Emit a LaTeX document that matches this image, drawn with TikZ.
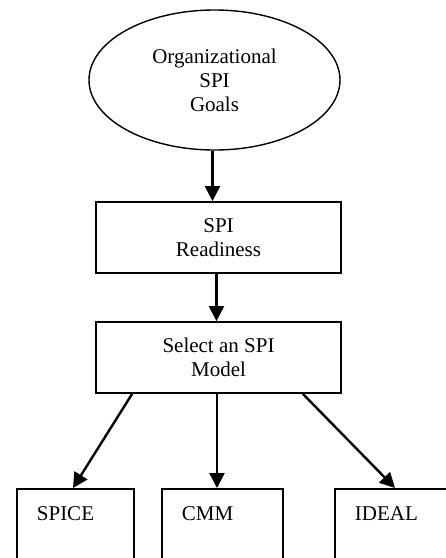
\documentclass[tikz,border=0pt]{standalone}
\usepackage{fontspec}
\setmainfont{Liberation Serif}
\usetikzlibrary{arrows.meta,shapes.geometric}
\begin{document}
\begin{tikzpicture}[x=1pt,y=-1pt,
  every node/.style={font=\fontsize{21}{24}\selectfont},
  boxstyle/.style={draw,line width=1.8pt,rectangle,minimum width=245pt,minimum height=71pt,align=center,inner sep=0pt},
  modelbox/.style={draw,line width=1.8pt,rectangle,anchor=north west,align=left,inner xsep=20pt,inner ysep=0pt,text height=32pt,text depth=100pt},
  arr/.style={line width=2.4pt,-{Triangle[length=15pt,width=15pt]}}]
\useasboundingbox (0,0) rectangle (446,558);
\clip (0,0) rectangle (446,558);
\node[draw,ellipse,line width=1.4pt,minimum width=251pt,minimum height=140pt,align=center,inner sep=0pt] (goals) at (214.5,80) {Organizational\\SPI\\Goals};
\node[boxstyle] (ready) at (218.5,237.5) {SPI\\Readiness};
\node[boxstyle] (select) at (218.5,357.5) {Select an SPI\\Model};
\node[modelbox,text width=77pt] (spice) at (16,488) {SPICE};
\node[modelbox,text width=81pt] (cmm) at (161,488) {CMM};
\node[modelbox,text width=86pt] (ideal) at (334,488) {IDEAL};
\draw[arr] ([xshift=-2pt]goals.south) -- ([xshift=-2pt]goals.south |- ready.north);
\draw[arr] ([xshift=-2pt]ready.south) -- ([xshift=-2pt]select.north);
\draw[arr] ([xshift=37pt]select.south west) -- ([xshift=57pt]spice.north west);
\draw[arr] ([xshift=-1.5pt]select.south) -- ([xshift=56pt]cmm.north west);
\draw[arr] ([xshift=-39pt]select.south east) -- ([xshift=61pt]ideal.north west);
\end{tikzpicture}
\end{document}
